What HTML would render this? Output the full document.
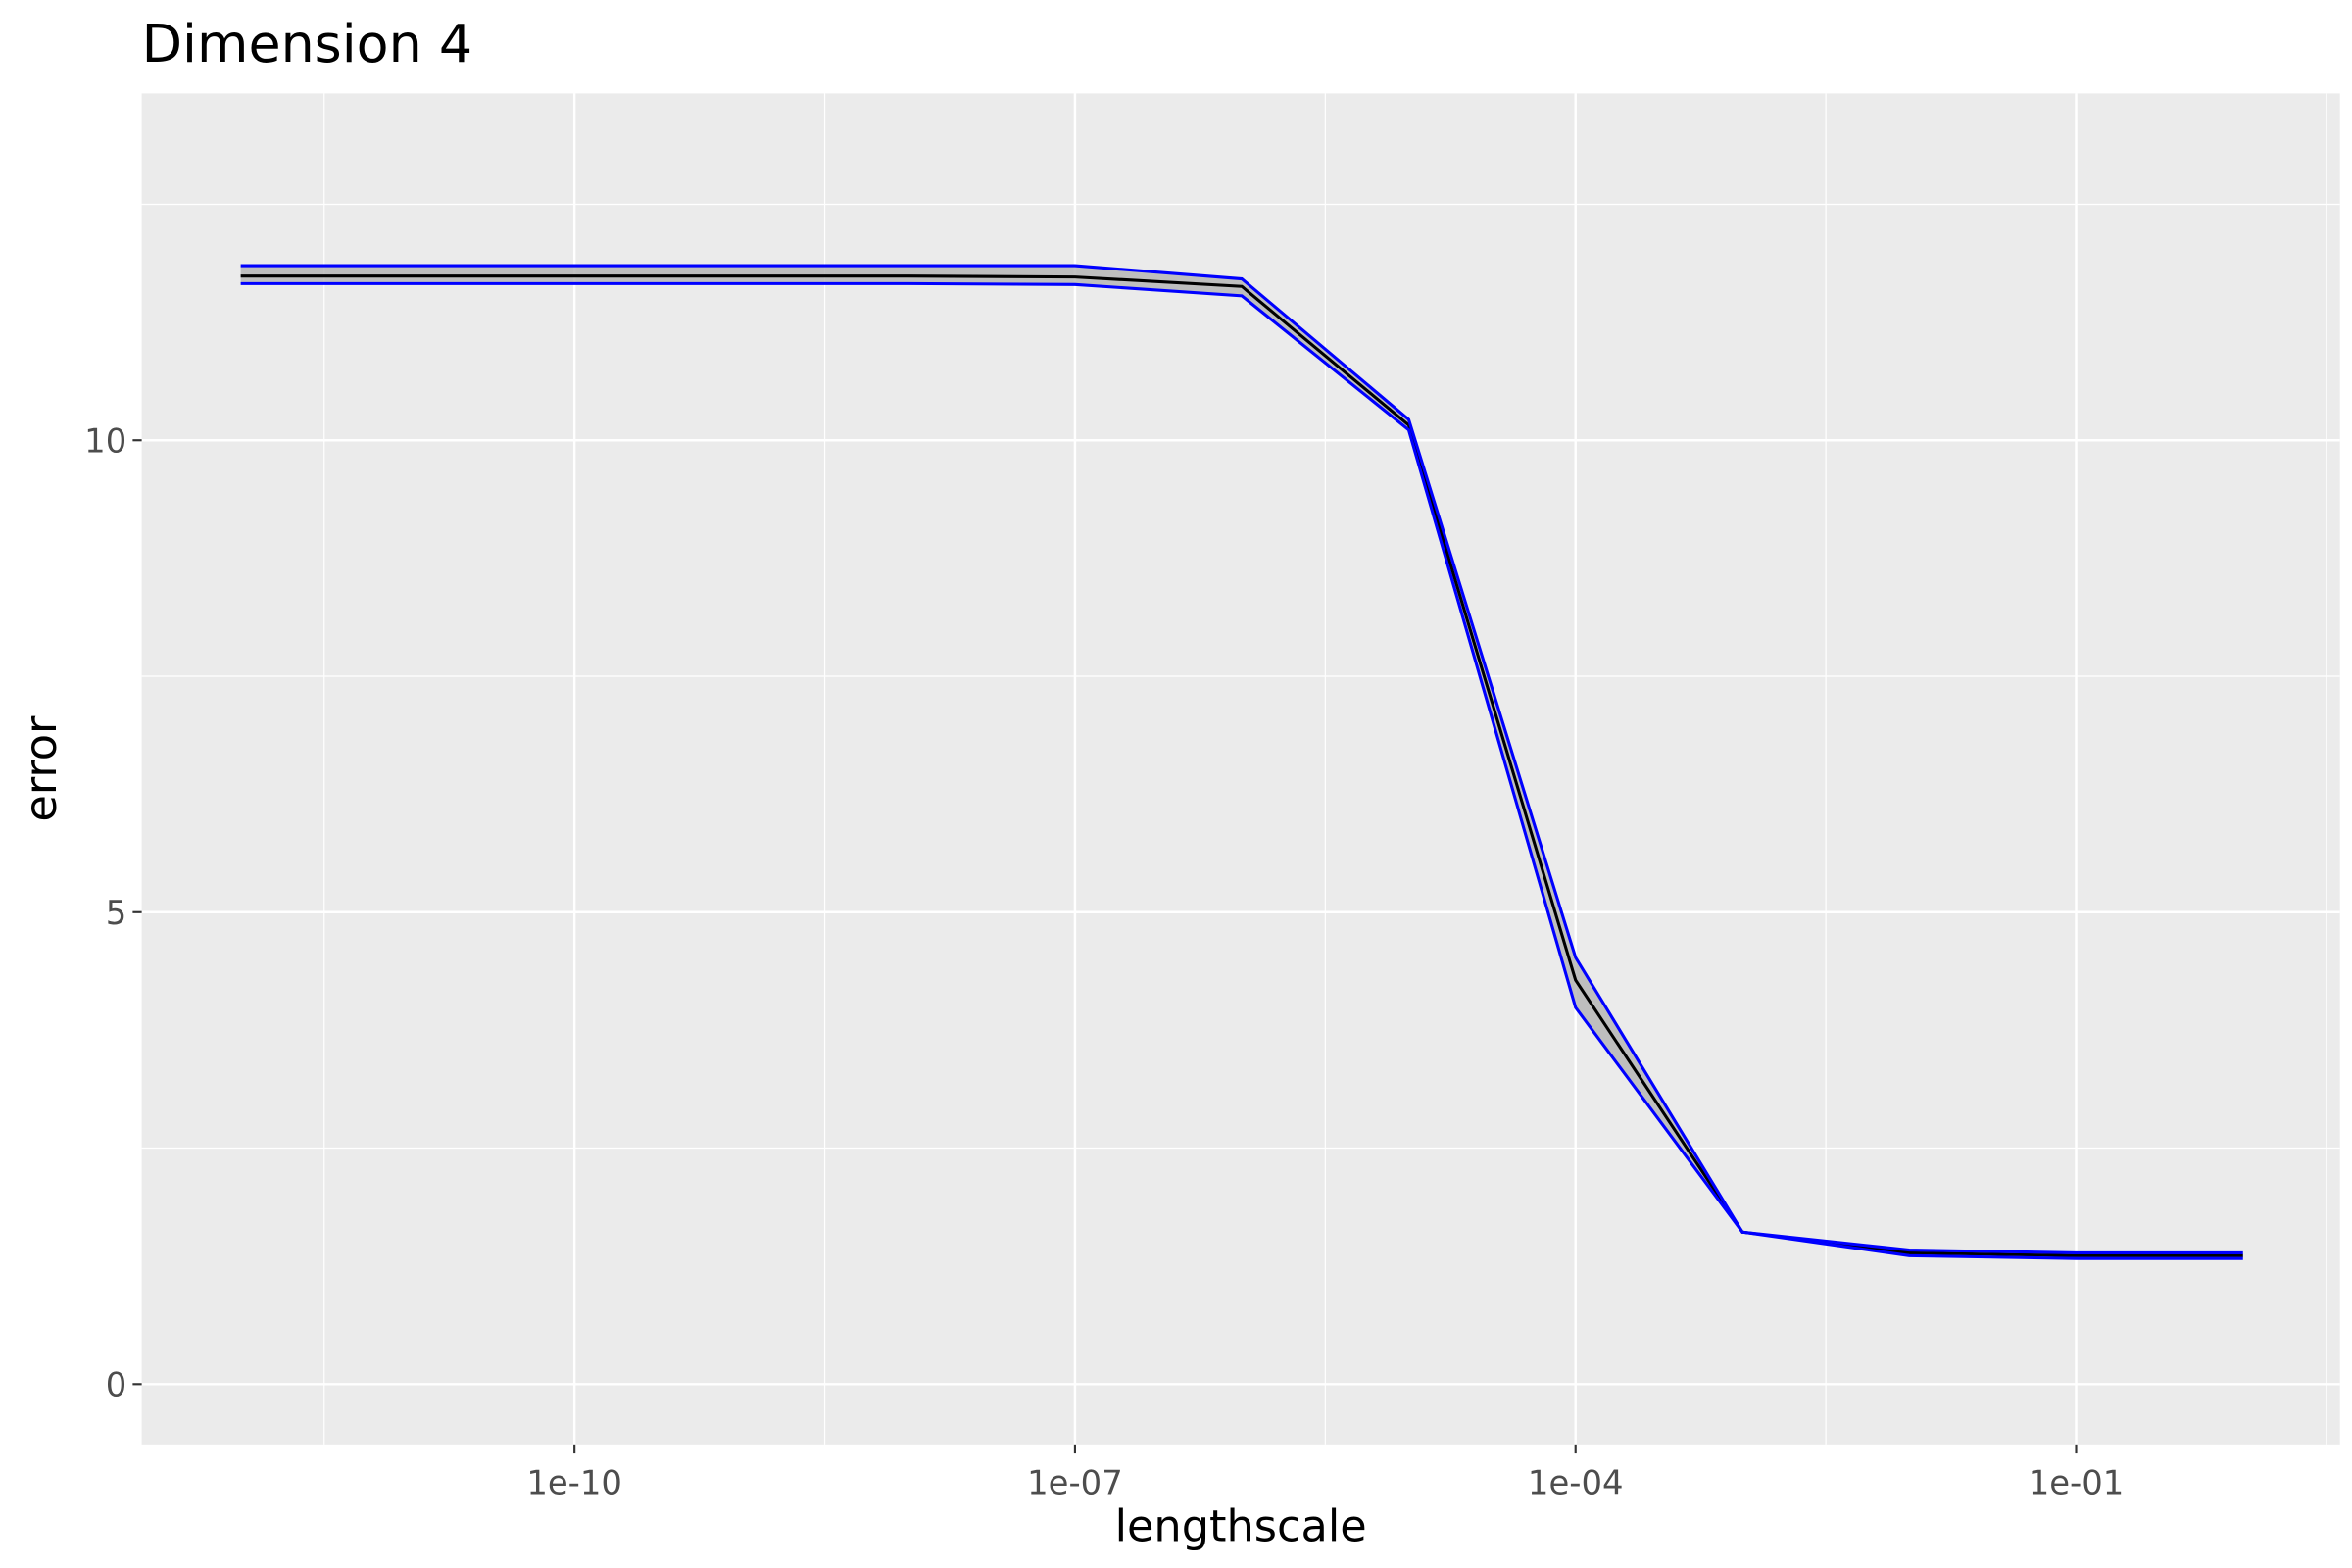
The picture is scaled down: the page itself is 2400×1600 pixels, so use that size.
<!DOCTYPE html>
<html><head><meta charset="utf-8"><style>html,body{margin:0;padding:0;background:#fff}svg{display:block}text{font-family:"DejaVu Sans","Liberation Sans",sans-serif}</style></head>
<body>
<svg id="chart" width="2400" height="1600" viewBox="0 0 1560 1040" xmlns="http://www.w3.org/2000/svg">
<rect x="0" y="0" width="1560" height="1040" fill="#fff"/>
<rect x="94" y="62" width="1458" height="896" fill="#ebebeb"/>
<g id="grid"></g>
<g id="marks"></g>
<g id="axes"></g>
<text x="94" y="41" font-size="35" fill="#000">Dimension 4</text>
<text x="823" y="1022" font-size="29" text-anchor="middle" fill="#000">lengthscale</text>
<text transform="translate(37,510) rotate(-90)" font-size="29" text-anchor="middle" fill="#000">error</text>
</svg>
<script>
const logX = [-12,-11,-10,-9,-8,-7,-6,-5,-4,-3,-2,-1,0];
const meanVals = [11.74,11.74,11.74,11.74,11.74,11.73,11.63,10.16,4.28,1.61,1.39,1.36,1.36];
const upperVals = [11.85,11.85,11.85,11.85,11.85,11.85,11.71,10.22,4.52,1.61,1.42,1.39,1.39];
const lowerVals = [11.66,11.66,11.66,11.66,11.66,11.65,11.53,10.11,3.99,1.61,1.36,1.33,1.33];
const xTickVals = [-10,-7,-4,-1];
const xTickLabels = ["1e-10","1e-07","1e-04","1e-01"];
const xMinorVals = [-11.5,-8.5,-5.5,-2.5,0.5];
const yTickVals = [0,5,10];
const yTickLabels = ["0","5","10"];
const yMinorVals = [2.5,7.5,12.5];

const NS="http://www.w3.org/2000/svg";
const L=94,R=1552,T=62,B=958;
function xs(v){return 381+(v+10)*110.67;}
function ys(v){return 918-v*62.6;}
function mk(tag,attrs,parent){const e=document.createElementNS(NS,tag);for(const k in attrs)e.setAttribute(k,attrs[k]);parent.appendChild(e);return e;}
const grid=document.getElementById('grid'),marks=document.getElementById('marks'),axes=document.getElementById('axes');
xMinorVals.forEach(v=>{const e=mk('line',{x1:xs(v),x2:xs(v),y1:T,y2:B,stroke:'#fff','stroke-width':0.8},grid);

});
yMinorVals.forEach(v=>{const e=mk('line',{x1:L,x2:R,y1:ys(v),y2:ys(v),stroke:'#fff','stroke-width':0.8},grid);

});
xTickVals.forEach((v,i)=>{const e=mk('line',{x1:xs(v),x2:xs(v),y1:T,y2:B,stroke:'#fff','stroke-width':1.6},grid);


const t=mk('line',{x1:xs(v),x2:xs(v),y1:B,y2:B+6,stroke:'#333','stroke-width':1.4},axes);


const l=mk('text',{x:xs(v),y:B+33,'font-size':22,fill:'#4d4d4d','text-anchor':'middle'},axes);l.textContent=xTickLabels[i];

});
yTickVals.forEach((v,i)=>{const e=mk('line',{x1:L,x2:R,y1:ys(v),y2:ys(v),stroke:'#fff','stroke-width':1.6},grid);


const t=mk('line',{x1:L-6,x2:L,y1:ys(v),y2:ys(v),stroke:'#333','stroke-width':1.4},axes);


const l=mk('text',{x:L-10,y:ys(v)+8,'font-size':22,fill:'#4d4d4d','text-anchor':'end'},axes);l.textContent=yTickLabels[i];

});
function pts(arr){return logX.map((x,i)=>xs(x)+','+ys(arr[i])).join(' ');}
const upPts=logX.map((x,i)=>xs(x)+','+ys(upperVals[i]));
const loPts=logX.map((x,i)=>xs(x)+','+ys(lowerVals[i])).reverse();
const rib=mk('polygon',{points:upPts.concat(loPts).join(' '),fill:'#b3b3b3','fill-opacity':0.8},marks);


const ml=mk('polyline',{points:pts(meanVals),fill:'none',stroke:'#000','stroke-width':2},marks);


const ul=mk('polyline',{points:pts(upperVals),fill:'none',stroke:'#0000ff','stroke-width':2},marks);


const ll=mk('polyline',{points:pts(lowerVals),fill:'none',stroke:'#0000ff','stroke-width':2},marks);


</script>
</body></html>
